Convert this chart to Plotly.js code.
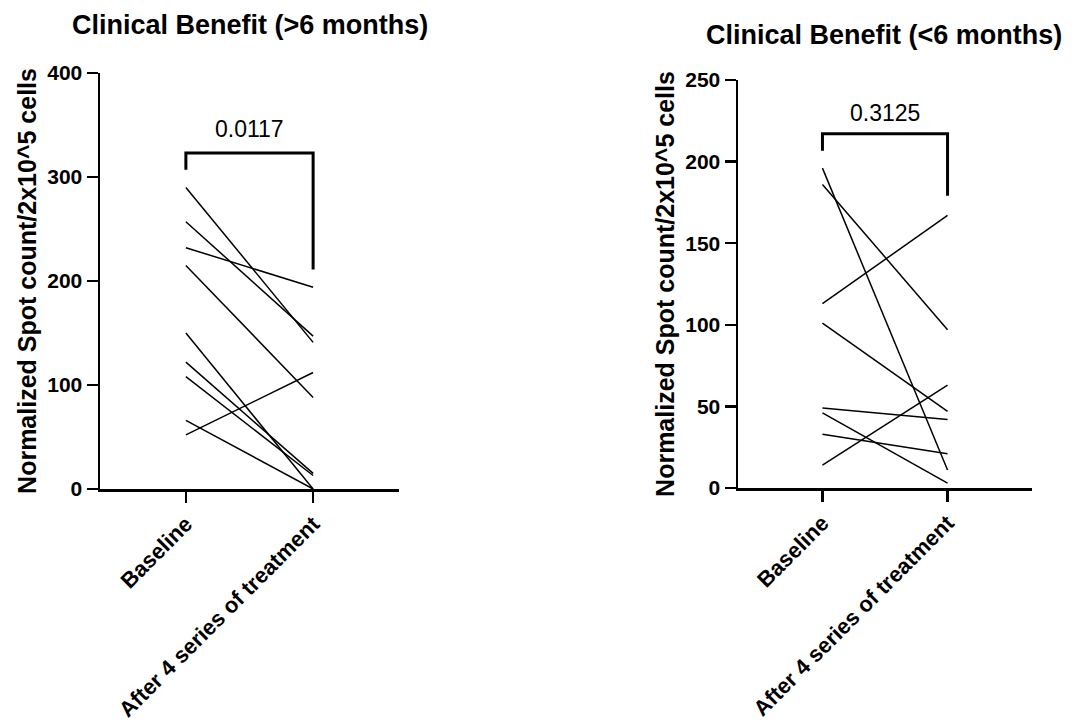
<!DOCTYPE html>
<html>
<head>
<meta charset="utf-8">
<script src="https://cdn.plot.ly/plotly-3.0.1.min.js"></script>
<style>html,body{margin:0;padding:0;background:#fff;}#chart{width:1077px;height:723px;}</style>
</head>
<body>
<div id="chart"></div>
<script>
// ---- data ----
const categories = ["Baseline", "After 4 series of treatment"];
const baselineLong = [290, 257, 232, 215, 150, 122, 108, 66, 52];
const afterLong    = [141, 147, 194, 88, 0, 15, 13, 0, 112];
const baselineShort = [196, 186, 113, 101, 49, 46, 33, 14];
const afterShort    = [11, 97, 167, 47, 42, 3, 21, 63];
const titles = ["Clinical Benefit (>6 months)", "Clinical Benefit (<6 months)"];
const yTitle = "Normalized Spot count/2x10^5 cells";
const pValues = ["0.0117", "0.3125"];
const leftTicks = [0, 100, 200, 300, 400];
const rightTicks = [0, 50, 100, 150, 200, 250];
// bracket levels: [left leg bottom, top, right leg bottom], and label level
const bracketLong = [307, 323, 211];
const bracketShort = [206.7, 217, 179];
const pLabelY = [346, 230];

const FONT = "Liberation Sans, Arial, Helvetica, sans-serif";
const traces = [];
function addPairs(base, after, xa, ya) {
  for (let i = 0; i < base.length; i++) {
    traces.push({
      x: [0, 1], y: [base[i], after[i]],
      xaxis: xa, yaxis: ya, type: "scatter", mode: "lines",
      line: {color: "#000", width: 1.5}, showlegend: false, hoverinfo: "skip"
    });
  }
}
addPairs(baselineLong, afterLong, "x", "y");
addPairs(baselineShort, afterShort, "x2", "y2");

function xAxis(domain, anchor) {
  return {
    domain: domain, anchor: anchor, range: [-0.675, 1.675],
    tickmode: "array", tickvals: [0, 1], ticktext: categories,
    tickangle: -45, ticks: "outside", ticklen: 11, tickwidth: 2.5, tickcolor: "#000",
    showline: true, linecolor: "#000", linewidth: 2.5,
    showgrid: false, zeroline: false,
    tickfont: {family: FONT, size: 22, color: "#000", weight: "bold"}
  };
}
function yAxis(domain, anchor, range, ticks) {
  return {
    domain: domain, anchor: anchor, range: range,
    tickmode: "array", tickvals: ticks,
    ticks: "outside", ticklen: 11, tickwidth: 2.5, tickcolor: "#000",
    showline: true, linecolor: "#000", linewidth: 2.5,
    showgrid: false, zeroline: false,
    tickfont: {family: FONT, size: 21, color: "#000", weight: "bold"},
    title: {text: "<b>" + yTitle + "</b>", font: {family: FONT, size: 25, color: "#000"}, standoff: 4}
  };
}
function bracket(xref, yref, b) {
  return {
    type: "path", xref: xref, yref: yref,
    path: `M 0 ${b[0]} L 0 ${b[1]} L 1 ${b[1]} L 1 ${b[2]}`,
    line: {color: "#000", width: 3}
  };
}

const layout = {
  width: 1077, height: 723,
  margin: {l: 0, r: 0, t: 0, b: 0},
  paper_bgcolor: "#fff", plot_bgcolor: "#fff",
  showlegend: false,
  xaxis: xAxis([100/1077, 399/1077], "y"),
  yaxis: yAxis([1 - 489/723, 1 - 73/723], "x", [0, 400], leftTicks),
  xaxis2: xAxis([738/1077, 1032/1077], "y2"),
  yaxis2: yAxis([1 - 488/723, 1 - 80/723], "x2", [0, 250], rightTicks),
  shapes: [bracket("x", "y", bracketLong), bracket("x2", "y2", bracketShort)],
  annotations: [
    {text: "<b>" + titles[0] + "</b>", xref: "paper", yref: "paper", x: 250/1077, y: 1 - 25/723,
     xanchor: "center", yanchor: "middle", showarrow: false, font: {family: FONT, size: 27, color: "#000"}},
    {text: "<b>" + titles[1] + "</b>", xref: "paper", yref: "paper", x: 884/1077, y: 1 - 35/723,
     xanchor: "center", yanchor: "middle", showarrow: false, font: {family: FONT, size: 27, color: "#000"}},
    {text: pValues[0], xref: "x", yref: "y", x: 0.5, y: pLabelY[0], xanchor: "center", yanchor: "middle",
     showarrow: false, font: {family: FONT, size: 23, color: "#000"}},
    {text: pValues[1], xref: "x2", yref: "y2", x: 0.5, y: pLabelY[1], xanchor: "center", yanchor: "middle",
     showarrow: false, font: {family: FONT, size: 23, color: "#000"}}
  ]
};
Plotly.newPlot("chart", traces, layout, {displayModeBar: false, staticPlot: true});
</script>
</body>
</html>
